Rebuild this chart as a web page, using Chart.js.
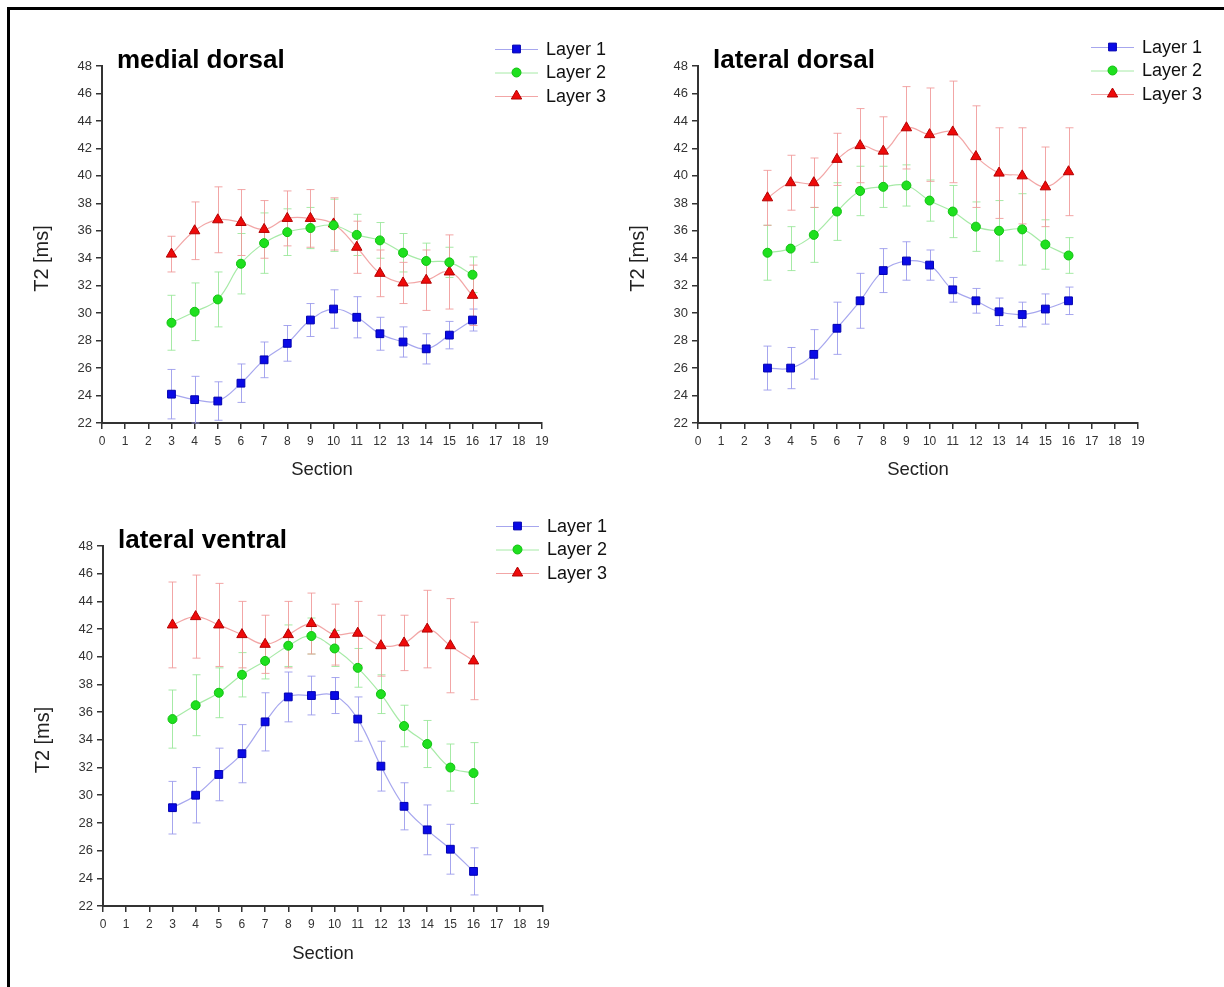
<!DOCTYPE html>
<html>
<head>
<meta charset="utf-8">
<script src="https://cdn.jsdelivr.net/npm/chart.js@4.4.1/dist/chart.umd.min.js"></script>
<style>
  html, body { margin: 0; padding: 0; background: #fff; overflow: hidden; }
  body { width: 1224px; height: 987px; position: relative; }
  #frame {
    position: absolute; left: 7px; top: 7px;
    width: 1400px; height: 1200px;
    border: 3px solid #000; box-sizing: border-box;
  }
  canvas { position: absolute; }
</style>
</head>
<body>
<div id="frame"></div>
<canvas id="mdChart" width="620" height="480" style="left:20px;top:30px"></canvas>
<canvas id="ldChart" width="600" height="480" style="left:616px;top:30px"></canvas>
<canvas id="lvChart" width="620" height="477" style="left:20px;top:510px"></canvas>

<script>
// ----- data: T2 mean and SD per section -----
const sections = [3, 4, 5, 6, 7, 8, 9, 10, 11, 12, 13, 14, 15, 16];
const layerNames = ["Layer 1", "Layer 2", "Layer 3"];
const xTicks = [0, 19];
const yTicks = [22, 48];

// medial dorsal
const mdLayer1 = [24.1, 23.7, 23.6, 24.9, 26.6, 27.8, 29.5, 30.3, 29.7, 28.5, 27.9, 27.4, 28.4, 29.5];
const mdLayer1Sd = [1.8, 1.7, 1.4, 1.4, 1.3, 1.3, 1.2, 1.4, 1.5, 1.2, 1.1, 1.1, 1.0, 0.8];
const mdLayer2 = [29.3, 30.1, 31.0, 33.6, 35.1, 35.9, 36.2, 36.4, 35.7, 35.3, 34.4, 33.8, 33.7, 32.8];
const mdLayer2Sd = [2.0, 2.1, 2.0, 2.2, 2.2, 1.7, 1.5, 1.9, 1.5, 1.3, 1.4, 1.3, 1.1, 1.3];
const mdLayer3 = [34.3, 36.0, 36.8, 36.6, 36.1, 36.9, 36.9, 36.5, 34.8, 32.9, 32.2, 32.4, 33.0, 31.3];
const mdLayer3Sd = [1.3, 2.1, 2.4, 2.4, 2.1, 2.0, 2.1, 1.9, 1.9, 1.7, 1.5, 2.2, 2.7, 2.2];

// lateral dorsal
const ldLayer1 = [26.0, 26.0, 27.0, 28.9, 30.9, 33.1, 33.8, 33.5, 31.7, 30.9, 30.1, 29.9, 30.3, 30.9];
const ldLayer1Sd = [1.6, 1.5, 1.8, 1.9, 2.0, 1.6, 1.4, 1.1, 0.9, 0.9, 1.0, 0.9, 1.1, 1.0];
const ldLayer2 = [34.4, 34.7, 35.7, 37.4, 38.9, 39.2, 39.3, 38.2, 37.4, 36.3, 36.0, 36.1, 35.0, 34.2];
const ldLayer2Sd = [2.0, 1.6, 2.0, 2.1, 1.8, 1.5, 1.5, 1.5, 1.9, 1.8, 2.2, 2.6, 1.8, 1.3];
const ldLayer3 = [38.4, 39.5, 39.5, 41.2, 42.2, 41.8, 43.5, 43.0, 43.2, 41.4, 40.2, 40.0, 39.2, 40.3];
const ldLayer3Sd = [2.0, 2.0, 1.8, 1.9, 2.7, 2.5, 3.0, 3.4, 3.7, 3.7, 3.3, 3.5, 2.9, 3.2];

// lateral ventral
const lvLayer1 = [29.1, 30.0, 31.5, 33.0, 35.3, 37.1, 37.2, 37.2, 35.5, 32.1, 29.2, 27.5, 26.1, 24.5];
const lvLayer1Sd = [1.9, 2.0, 1.9, 2.1, 2.1, 1.8, 1.4, 1.3, 1.6, 1.8, 1.7, 1.8, 1.8, 1.7];
const lvLayer2 = [35.5, 36.5, 37.4, 38.7, 39.7, 40.8, 41.5, 40.6, 39.2, 37.3, 35.0, 33.7, 32.0, 31.6];
const lvLayer2Sd = [2.1, 2.2, 1.8, 1.6, 1.3, 1.5, 1.3, 1.3, 1.4, 1.4, 1.5, 1.7, 1.7, 2.2];
const lvLayer3 = [42.3, 42.9, 42.3, 41.6, 40.9, 41.6, 42.4, 41.6, 41.7, 40.8, 41.0, 42.0, 40.8, 39.7];
const lvLayer3Sd = [3.1, 3.0, 3.0, 2.4, 2.1, 2.4, 2.2, 2.2, 2.3, 2.2, 2.0, 2.8, 3.4, 2.8];

// ----- styles -----
const FONT = "'Liberation Sans', Arial, Helvetica, sans-serif";
const layerStyles = [
  { marker: "#0a0ae6", edge: "#0000b0", line: "rgba(150,150,235,0.85)", style: "rect", radius: 5.5 },
  { marker: "#1ee01e", edge: "#12c012", line: "rgba(150,230,150,0.85)", style: "circle", radius: 4.5 },
  { marker: "#ee0a0a", edge: "#b40000", line: "rgba(240,150,150,0.85)", style: "triangle", radius: 6 }
];

// vertical error bars with caps, drawn under the lines and markers
const errorBars = {
  id: "errorBars",
  beforeDatasetsDraw(chart) {
    const ctx = chart.ctx;
    const yScale = chart.scales.y;
    chart.data.datasets.forEach((ds, di) => {
      const meta = chart.getDatasetMeta(di);
      ctx.save();
      ctx.strokeStyle = ds.errorColor;
      ctx.lineWidth = 1;
      meta.data.forEach((pt, i) => {
        const v = ds.data[i].y;
        const e = ds.errors[i];
        const yTop = yScale.getPixelForValue(v + e);
        const yBot = yScale.getPixelForValue(v - e);
        const x = Math.round(pt.x) + 0.5;
        ctx.beginPath();
        ctx.moveTo(x, yTop);
        ctx.lineTo(x, yBot);
        ctx.moveTo(x - 4, yTop);
        ctx.lineTo(x + 4, yTop);
        ctx.moveTo(x - 4, yBot);
        ctx.lineTo(x + 4, yBot);
        ctx.stroke();
      });
      ctx.restore();
    });
  }
};

// panel title, y-axis title and line+symbol legend
const panelDecor = {
  id: "panelDecor",
  afterDraw(chart, args, opts) {
    const ctx = chart.ctx;
    const area = chart.chartArea;
    ctx.save();
    ctx.fillStyle = "#000";
    ctx.font = "bold 26px " + FONT;
    ctx.textBaseline = "alphabetic";
    ctx.textAlign = "left";
    ctx.fillText(opts.title, area.left + 15, area.top + 2);

    // y title sits a little below the middle of the axis
    ctx.save();
    ctx.translate(area.left - 60, (area.top + area.bottom) / 2 + 14);
    ctx.rotate(-Math.PI / 2);
    ctx.font = "20px " + FONT;
    ctx.fillStyle = "#222";
    ctx.textAlign = "center";
    ctx.textBaseline = "middle";
    ctx.fillText("T2 [ms]", 0, 0);
    ctx.restore();

    ctx.font = "18px " + FONT;
    ctx.textBaseline = "middle";
    ctx.textAlign = "left";
    chart.data.datasets.forEach((ds, i) => {
      const y = area.top + opts.legendTop + i * 23.5;
      const x0 = area.right - 47;
      const x1 = area.right - 4;
      ctx.strokeStyle = ds.borderColor;
      ctx.lineWidth = 1;
      ctx.beginPath();
      ctx.moveTo(x0, y + 0.5);
      ctx.lineTo(x1, y + 0.5);
      ctx.stroke();
      ctx.fillStyle = ds.pointBackgroundColor;
      ctx.strokeStyle = ds.pointBorderColor;
      Chart.helpers.drawPoint(ctx, {
        pointStyle: ds.pointStyle, radius: ds.pointRadius, rotation: 0, borderWidth: 1
      }, (x0 + x1) / 2, y);
      ctx.fillStyle = "#111";
      ctx.fillText(ds.label, area.right + 4, y + 1);
    });
    ctx.restore();
  }
};

function buildDatasets(means, sds) {
  return means.map((m, k) => {
    const s = layerStyles[k];
    return {
      label: layerNames[k],
      data: sections.map((x, i) => ({ x: x, y: m[i] })),
      errors: sds[k],
      errorColor: s.line,
      borderColor: s.line,
      borderWidth: 1.2,
      tension: 0.4,
      pointStyle: s.style,
      pointRadius: s.radius,
      pointHoverRadius: s.radius,
      pointBackgroundColor: s.marker,
      pointBorderColor: s.edge,
      pointBorderWidth: 1
    };
  });
}

// plot: chart area in page pixels; box: canvas placement
function makePanel(id, box, plot, title, means, sds, xTitlePad, legendTop) {
  const el = document.getElementById(id);
  const axisColor = "#333";
  new Chart(el, {
    type: "line",
    data: { datasets: buildDatasets(means, sds) },
    plugins: [errorBars, panelDecor],
    options: {
      responsive: false,
      animation: false,
      events: [],
      layout: {
        padding: {
          left: 0,
          top: plot.t - box.top,
          right: box.left + box.width - plot.r,
          bottom: 0
        }
      },
      scales: {
        x: {
          type: "linear",
          min: xTicks[0],
          max: xTicks[1],
          afterFit: (s) => { s.height = box.top + box.height - plot.b; },
          border: { display: true, color: axisColor, width: 2 },
          grid: { drawOnChartArea: false, drawTicks: true, tickLength: 6, color: axisColor, lineWidth: 1.5 },
          ticks: { stepSize: 1, autoSkip: false, maxRotation: 0, padding: 5, color: "#333", font: { family: FONT, size: 12 } },
          title: { display: true, text: "Section", color: "#222", font: { family: FONT, size: 18.5 }, padding: { top: 0, bottom: xTitlePad } }
        },
        y: {
          min: yTicks[0],
          max: yTicks[1],
          afterFit: (s) => { s.width = plot.l - box.left; },
          border: { display: true, color: axisColor, width: 2 },
          grid: { drawOnChartArea: false, drawTicks: true, tickLength: 6, color: axisColor, lineWidth: 1.5 },
          ticks: { stepSize: 2, autoSkip: false, padding: 4, color: "#333", font: { family: FONT, size: 13 } },
          title: { display: false }
        }
      },
      plugins: {
        legend: { display: false },
        tooltip: { enabled: false },
        panelDecor: { title: title, legendTop: legendTop }
      }
    }
  });
}

makePanel("mdChart",
  { left: 20, top: 30, width: 620, height: 480 },
  { l: 102, r: 542, t: 66, b: 423 },
  "medial dorsal",
  [mdLayer1, mdLayer2, mdLayer3], [mdLayer1Sd, mdLayer2Sd, mdLayer3Sd],
  29, -17);

makePanel("ldChart",
  { left: 616, top: 30, width: 600, height: 480 },
  { l: 698, r: 1138, t: 66, b: 423 },
  "lateral dorsal",
  [ldLayer1, ldLayer2, ldLayer3], [ldLayer1Sd, ldLayer2Sd, ldLayer3Sd],
  29, -19);

makePanel("lvChart",
  { left: 20, top: 510, width: 620, height: 477 },
  { l: 103, r: 543, t: 546, b: 906 },
  "lateral ventral",
  [lvLayer1, lvLayer2, lvLayer3], [lvLayer1Sd, lvLayer2Sd, lvLayer3Sd],
  22, -20);
</script>
</body>
</html>
